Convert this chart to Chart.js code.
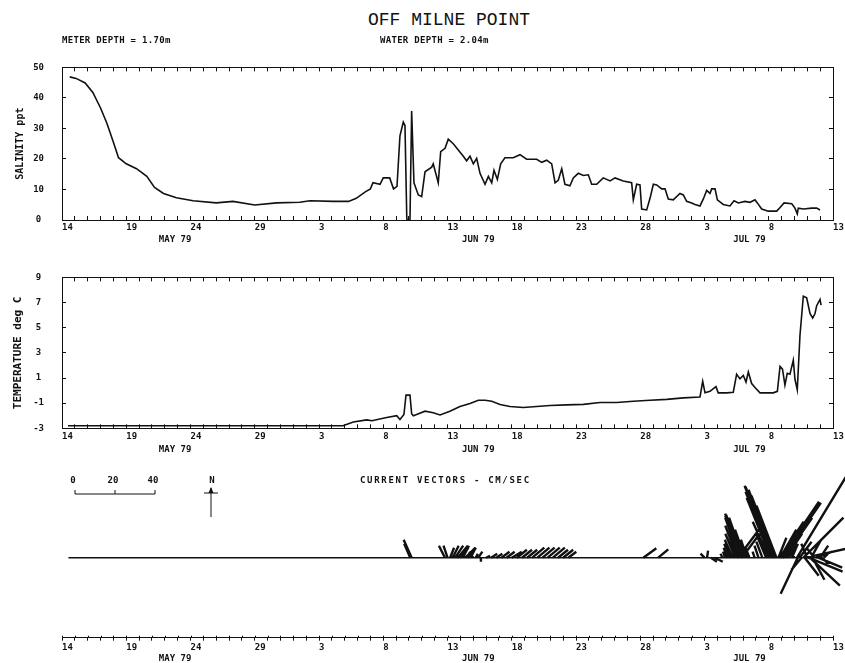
<!DOCTYPE html>
<html>
<head>
<meta charset="utf-8">
<title>OFF MILNE POINT</title>
<script src="https://cdn.jsdelivr.net/npm/chart.js@4.4.1/dist/chart.umd.min.js"></script>
<style>
  html, body { margin: 0; padding: 0; background: #fff; }
  #page { position: relative; width: 845px; height: 663px; overflow: hidden; color: #111;
          font-family: "DejaVu Sans Mono", monospace; }
  canvas { position: absolute; left: 0; }
  .lbl { position: absolute; white-space: pre; line-height: 1; z-index: 2; }
  .small { font-size: 9px; font-weight: bold; letter-spacing: 0.3px; }
</style>
</head>
<body>
<div id="page">
  <canvas id="salinityChart" width="845" height="210" style="top:40px"></canvas>
  <canvas id="temperatureChart" width="845" height="210" style="top:250px"></canvas>
  <canvas id="currentChart" width="845" height="203" style="top:460px"></canvas>

  <div class="lbl" style="left:368px; top:10px; font: 18px 'Liberation Mono', monospace;">OFF MILNE POINT</div>
  <div class="lbl small" style="left:62px; top:36px;">METER DEPTH = 1.70m</div>
  <div class="lbl small" style="left:380px; top:36px;">WATER DEPTH = 2.04m</div>
  <div class="lbl small" style="left:360px; top:476px; letter-spacing:1.7px;">CURRENT VECTORS - CM/SEC</div>
</div>

<script>
const INK = '#111';
const MONO = "'DejaVu Sans Mono', monospace";

// time axis in days after 14 May 1979, a label every 5 days
const dateLabels = ['14', '19', '24', '29', '3', '8', '13', '18', '23', '28', '3', '8', '13'];
const monthLabels = ['MAY 79', 'JUN 79', 'JUL 79'];

// salinity (ppt)
const salDay = [0.6, 1.1, 1.8, 2.4, 3.0, 3.5, 4.0, 4.4, 5.0, 5.8,
  6.6, 7.2, 7.9, 8.9, 10.2, 12.0, 13.3, 15.0, 16.7, 18.5,
  19.3, 21.1, 22.3, 22.9, 23.6, 24.0, 24.2, 24.75, 25.0, 25.5,
  25.8, 26.07, 26.3, 26.56, 26.69, 26.83, 26.85, 27.08, 27.21, 27.39,
  27.73, 27.99, 28.25, 28.77, 28.89, 29.28, 29.47, 29.81, 30.06, 30.45,
  31.23, 31.49, 31.75, 32.01, 32.27, 32.53, 32.92, 33.18, 33.44, 33.62,
  33.88, 34.14, 34.47, 35.12, 35.64, 36.16, 36.94, 37.33, 37.72, 38.11,
  38.37, 38.62, 38.89, 39.14, 39.53, 39.79, 40.18, 40.57, 40.96, 41.22,
  41.61, 42.12, 42.65, 43.04, 43.68, 44.33, 44.46, 44.72, 44.98, 45.11,
  45.5, 45.76, 46.02, 46.28, 46.67, 46.93, 47.18, 47.57, 48.09, 48.35,
  48.61, 49.0, 49.26, 49.65, 49.91, 50.17, 50.43, 50.56, 50.82, 51.0,
  51.46, 51.98, 52.3, 52.63, 53.15, 53.54, 53.93, 54.11, 54.45, 54.96,
  55.62, 55.88, 56.19, 56.79, 57.04, 57.22, 57.3, 57.69, 58.34, 58.73,
  58.99];
const salVal = [46.9, 46.4, 44.9, 41.8, 36.7, 31.6, 25.5, 20.4, 18.4, 16.8,
  14.3, 10.7, 8.7, 7.3, 6.3, 5.6, 6.1, 4.9, 5.6, 5.8,
  6.3, 6.1, 6.1, 7.1, 9.2, 10.2, 12.2, 11.7, 13.8, 13.8,
  10.2, 11, 27.6, 32.1, 31, 1, 0, 0, 35.7, 12.2,
  8.2, 7.7, 15.8, 17.3, 18.4, 12.2, 22.4, 23.5, 26.5, 25.0,
  20.9, 19.4, 20.9, 18.4, 20.2, 15.3, 11.7, 14.3, 12.2, 16.3,
  13.3, 18.4, 20.4, 20.4, 21.4, 19.9, 19.9, 18.9, 19.6, 18.4,
  12.2, 13, 16.8, 11.7, 11.2, 13.8, 15.3, 14.6, 14.8, 11.7,
  11.7, 13.8, 12.8, 13.8, 12.8, 12.2, 6.6, 11.7, 11.5, 3.6,
  3.3, 7.1, 11.7, 11.5, 10.2, 10.2, 6.9, 6.6, 8.7, 8.2,
  6.1, 5.6, 5.1, 4.6, 6.9, 9.7, 8.7, 10.2, 10.2, 6.6,
  5.1, 4.6, 6.3, 5.6, 6.1, 5.8, 6.6, 5.6, 3.6, 2.9,
  2.9, 4.1, 5.6, 5.3, 3.9, 2.0, 3.9, 3.6, 3.9, 3.9,
  3.3];

// temperature (deg C)
const tempDay = [0.47, 21.87, 22.67, 23.71, 24.12, 25.27, 26.05, 26.3, 26.61, 26.77,
  27.08, 27.21, 27.34, 27.6, 28.25, 28.89, 29.42, 30.19, 30.97, 31.75,
  32.4, 32.92, 33.44, 34.09, 34.86, 35.9, 36.94, 37.98, 39.28, 40.57,
  41.87, 43.17, 44.46, 45.76, 47.06, 48.35, 49.65, 49.86, 50.04, 50.43,
  50.89, 51.07, 51.73, 52.24, 52.5, 52.76, 53.02, 53.23, 53.41, 53.67,
  53.93, 54.32, 55.35, 55.67, 55.88, 56.07, 56.26, 56.44, 56.65, 56.91,
  57.04, 57.22, 57.43, 57.69, 57.95, 58.21, 58.42, 58.6, 58.73, 58.99, 59.07];
const tempVal = [-2.8, -2.8, -2.5, -2.33, -2.4, -2.14, -2.0, -2.3, -1.9, -0.36,
  -0.36, -1.84, -2.0, -1.9, -1.64, -1.77, -1.94, -1.64, -1.27, -1.03,
  -0.77, -0.77, -0.85, -1.1, -1.27, -1.34, -1.27, -1.19, -1.14, -1.1,
  -0.95, -0.95, -0.85, -0.77, -0.7, -0.58, -0.51, 0.73, -0.18, -0.06,
  0.31, -0.18, -0.18, -0.13, 1.3, 0.93, 1.2, 0.68, 1.48, 0.56,
  0.24, -0.18, -0.18, -0.06, 1.92, 1.7, 0.44, 1.38, 1.3, 2.42,
  0.9, 0.07, 4.4, 7.5, 7.37, 6.13, 5.76, 6.13, 6.75, 7.25, 6.8];

// current vectors (cm/s): east and north components at each day
const vecDay = [27.1, 27.21,
  29.8, 30.0, 30.2, 30.4, 30.6, 30.8, 31.0, 31.2, 31.4, 31.6, 31.8, 32.0, 32.2, 32.4, 32.6,
  33.0, 33.4, 33.8, 34.2, 34.6, 35.0, 35.4, 35.8, 36.2, 36.6, 37.0, 37.4, 37.8, 38.2, 38.6, 39.0, 39.4,
  45.24, 46.4,
  50.0, 50.2, 50.5, 50.8,
  51.4, 51.6, 51.8, 52.0, 52.2, 52.4, 52.55, 52.7, 52.78, 52.85, 52.92, 53.0, 53.15, 53.3, 53.5, 52.6, 52.9,
  53.9, 54.2, 54.5, 54.8, 55.0, 55.15, 55.22, 55.3, 55.37, 55.45, 55.52, 55.6, 55.75, 55.85, 55.9, 55.95,
  56.0, 56.05, 56.1, 56.2, 56.35, 56.55,
  56.8, 57.0, 57.2, 57.25, 57.4, 57.55, 57.7, 57.8, 57.9, 58.0, 58.1, 58.2, 58.3, 58.4, 58.55, 58.7, 58.85, 59.0, 59.15, 59.3];
const vecEast = [-3, -4,
  -3, -2, 2, 3, 4, 5, 4, 3, 5, 4, 2, -2, 1, 2, 0,
  2, 3, 3, 4, 4, 5, 5, 5, 5, 6, 6, 6, 6, 6, 5, 5, 4,
  6.5, 5,
  -2, 0.5, 3, 4,
  -1, -1, -2, -3, -4, -5, -6, -7, -7.5, -8, -8, -7, -5, -3, -2, 12, 9,
  -1, -2, -3, -5, -8, -12, -13, -14, -14, -13, -12, -10, 4, 12, 8, 19,
  16, 18, 19, 14, 8, 4,
  3, -4, 26, -8.5, 6, -5, 20, 7, 20, -3, 17, 15, 5, 6, -4, 8, 12, 4, 3, 2];
const vecNorth = [7, 9,
  6, 6, 5, 6, 6, 6, 5, 6, 5, 5, 4, 3, 2, 3, -2,
  1, 2, 2, 3, 3, 3, 4, 4, 4, 5, 5, 5, 5, 5, 4, 4, 3,
  4.7, 4.2,
  2, 3.5, -2, -2,
  2, 3, 5, 7, 9, 12, 16, 20, 21, 22, 21.5, 20, 14, 9, 5, 16, 12,
  3, 6, 8, 12, 18, 30, 33, 36, 35.5, 34, 31, 26, 10, 18, 14, 28,
  24, 26, 27.5, 20, 12, 6,
  7, 6, 43, -18, 8, -6, 20, -9, 4.5, 7, -7, -14, 9, -11, 5, 3, -5, 6, -3, 2];
const recordStart = 0.5, recordEnd = 59.2;

const DAY_MIN = 0, DAY_MAX = 60;
const VEC_MIN = -40, VEC_MAX = 44;

Chart.defaults.font.family = MONO;
Chart.defaults.color = INK;

const tickFont = { family: MONO, size: 9, weight: 'bold' };

function points(xs, ys) {
  return xs.map((x, i) => ({ x: x, y: ys[i] }));
}

// bottom time axis, ticks every day, date under every fifth
function timeAxis(height, tickLen, pad) {
  return {
    type: 'linear', position: 'bottom', min: DAY_MIN, max: DAY_MAX,
    border: { display: true, color: INK, width: 1 },
    grid: { drawOnChartArea: false, drawTicks: true, tickLength: tickLen, color: INK, lineWidth: 1 },
    ticks: {
      stepSize: 1, autoSkip: false, maxRotation: 0, minRotation: 0, maxTicksLimit: 100,
      includeBounds: false, align: 'start', padding: pad, color: INK, font: tickFont,
      callback: v => (v % 5 === 0 ? dateLabels[v / 5] : '')
    },
    afterFit: s => { s.height = height; s.paddingLeft = 0; s.paddingRight = 0; }
  };
}

function topAxis() {
  return {
    type: 'linear', position: 'top', min: DAY_MIN, max: DAY_MAX,
    border: { display: true, color: INK, width: 1 },
    grid: { drawOnChartArea: false, tickLength: -4, color: INK },
    ticks: { display: false, stepSize: 1, maxTicksLimit: 100, includeBounds: false },
    afterFit: s => { s.height = 0; s.paddingLeft = 0; s.paddingRight = 0; }
  };
}

function valueAxis(min, max, step, title, titleSize, titlePad) {
  return {
    type: 'linear', position: 'left', min: min, max: max,
    border: { display: true, color: INK, width: 1 },
    grid: { drawOnChartArea: false, tickLength: -4, color: INK },
    ticks: { stepSize: step, crossAlign: 'center', padding: 22, color: INK, font: tickFont },
    title: { display: true, text: title, color: INK, font: { family: MONO, size: titleSize, weight: 'bold' },
             padding: { top: titlePad, bottom: 0 } },
    afterFit: s => { s.width = 62; }
  };
}

function rightAxis(min, max, step) {
  return {
    type: 'linear', position: 'right', min: min, max: max,
    border: { display: true, color: INK, width: 1 },
    grid: { drawOnChartArea: false, tickLength: -4, color: INK },
    ticks: { display: false, stepSize: step },
    afterFit: s => { s.width = 0; }
  };
}

// month names under the date labels
function monthPlugin(offset) {
  const centres = [8.8, 32.4, 53.5];
  return {
    id: 'monthLabels',
    afterDraw(chart) {
      const xs = chart.scales.x, ctx = chart.ctx;
      ctx.save();
      ctx.fillStyle = INK;
      ctx.font = 'bold 9px ' + MONO;
      ctx.textAlign = 'center';
      ctx.textBaseline = 'middle';
      monthLabels.forEach((t, i) => ctx.fillText(t, xs.getPixelForValue(centres[i]), xs.top + offset));
      ctx.restore();
    }
  };
}

// short marks above the vector time axis so the ticks cross it
const crossTickPlugin = {
  id: 'crossTicks',
  afterDraw(chart) {
    const xs = chart.scales.x, ctx = chart.ctx;
    ctx.save();
    ctx.strokeStyle = INK;
    ctx.lineWidth = 1;
    ctx.beginPath();
    xs.ticks.forEach(t => {
      const px = Math.round(xs.getPixelForValue(t.value)) + 0.5;
      ctx.moveTo(px, xs.top);
      ctx.lineTo(px, xs.top - 2);
    });
    ctx.stroke();
    ctx.restore();
  }
};

const common = {
  responsive: false, animation: false, devicePixelRatio: 1, events: [],
  plugins: { legend: { display: false }, tooltip: { enabled: false } }
};

function traceDataset(data) {
  return { data: data, showLine: true, borderColor: INK, borderWidth: 1.6, pointRadius: 0, tension: 0 };
}

new Chart(document.getElementById('salinityChart'), {
  type: 'scatter',
  data: { datasets: [traceDataset(points(salDay, salVal))] },
  options: Object.assign({}, common, {
    layout: { padding: { top: 16.7, right: 12, bottom: 0, left: 0 } },
    scales: {
      x: timeAxis(30, -4, 6.3),
      x2: topAxis(),
      y: valueAxis(0, 50, 10, 'SALINITY ppt', 10, 14),
      y2: rightAxis(0, 50, 10)
    }
  }),
  plugins: [monthPlugin(20)]
});

new Chart(document.getElementById('temperatureChart'), {
  type: 'scatter',
  data: { datasets: [traceDataset(points(tempDay, tempVal))] },
  options: Object.assign({}, common, {
    layout: { padding: { top: 16.7, right: 12, bottom: 0, left: 0 } },
    scales: {
      x: timeAxis(31.7, -4, 7),
      x2: topAxis(),
      y: valueAxis(-3, 9, 2, 'TEMPERATURE deg C', 11, 12),
      y2: rightAxis(-3, 9, 2)
    }
  }),
  plugins: [monthPlugin(21)]
});

// scale bar and north arrow of the vector panel
const vectorKeyPlugin = {
  id: 'vectorKey',
  afterDraw(chart) {
    const ctx = chart.ctx, ys = chart.scales.y;
    const perUnit = (ys.getPixelForValue(0) - ys.getPixelForValue(40)) / 40;
    const x0 = 75, yBar = 34;
    ctx.save();
    ctx.strokeStyle = INK;
    ctx.fillStyle = INK;
    ctx.lineWidth = 1;
    ctx.beginPath();
    ctx.moveTo(x0, yBar - 4); ctx.lineTo(x0, yBar);
    ctx.lineTo(x0 + 40 * perUnit, yBar); ctx.lineTo(x0 + 40 * perUnit, yBar - 4);
    ctx.moveTo(x0 + 20 * perUnit, yBar); ctx.lineTo(x0 + 20 * perUnit, yBar - 4);
    ctx.stroke();
    ctx.font = 'bold 9px ' + MONO;
    ctx.textAlign = 'center';
    ctx.textBaseline = 'middle';
    [0, 20, 40].forEach(s => ctx.fillText(String(s), x0 + s * perUnit - 2, yBar - 13));

    const nx = 211;
    ctx.beginPath();
    ctx.moveTo(nx, 28); ctx.lineTo(nx, 57);
    ctx.moveTo(nx - 7, 33); ctx.lineTo(nx + 7, 33);
    ctx.stroke();
    ctx.beginPath();
    ctx.moveTo(nx, 27); ctx.lineTo(nx - 2.5, 33); ctx.lineTo(nx + 2.5, 33); ctx.closePath();
    ctx.fill();
    ctx.fillText('N', nx + 1, 21);
    ctx.restore();
  }
};

const currentChart = new Chart(document.getElementById('currentChart'), {
  type: 'scatter',
  data: {
    datasets: [
      { data: [], showLine: true, borderColor: INK, borderWidth: 2.4, pointRadius: 0, clip: false },
      traceDataset([{ x: recordStart, y: 0 }, { x: recordEnd, y: 0 }])
    ]
  },
  options: Object.assign({}, common, {
    layout: { padding: { top: 9.7, right: 12, bottom: 0, left: 62 } },
    scales: {
      x: timeAxis(25.3, 3, 1.6),
      y: { type: 'linear', display: false, min: VEC_MIN, max: VEC_MAX }
    }
  }),
  plugins: [monthPlugin(21.3), vectorKeyPlugin, crossTickPlugin]
});

// sticks: same pixel scale for east (along time) and north
const area = currentChart.chartArea;
const daysPerUnit = ((DAY_MAX - DAY_MIN) / (area.right - area.left)) *
                    ((area.bottom - area.top) / (VEC_MAX - VEC_MIN));
const sticks = [];
vecDay.forEach((d, i) => {
  sticks.push({ x: d, y: 0 }, { x: d + vecEast[i] * daysPerUnit, y: vecNorth[i] }, { x: d, y: null });
});
currentChart.data.datasets[0].data = sticks;
currentChart.update('none');
</script>
</body>
</html>
